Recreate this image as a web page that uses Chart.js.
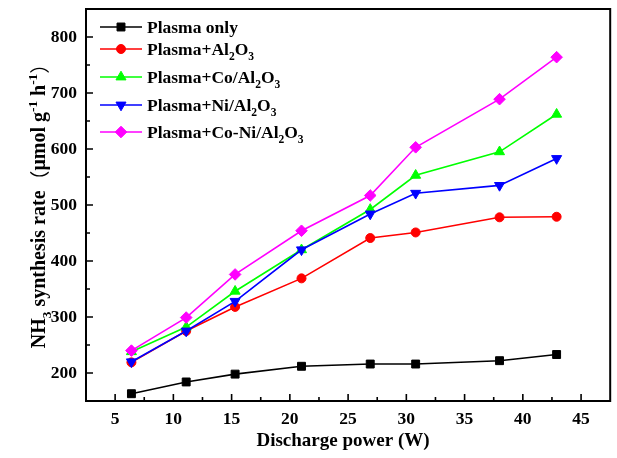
<!DOCTYPE html>
<html><head><meta charset="utf-8">
<script src="https://cdn.jsdelivr.net/npm/chart.js@4.4.1/dist/chart.umd.min.js"></script>
<style>html,body{margin:0;padding:0;background:#fff;}#wrap{width:617px;height:458px;position:relative;}</style>
</head><body><div id="wrap"><canvas id="c" width="617" height="458"></canvas></div>
<script>
// ---- data ----
const powerW = [6.4, 11.1, 15.3, 21.0, 26.9, 30.8, 38.0, 42.9];
const plasmaOnly = [163, 184, 198, 212, 216, 216, 222, 233];
const plasmaAl2O3 = [219, 275, 318, 369, 441, 451, 478, 479];
const plasmaCoAl2O3 = [238, 282, 346, 420, 492, 553, 595, 662];
const plasmaNiAl2O3 = [220, 275, 328, 420, 484, 521, 535, 583];
const plasmaCoNiAl2O3 = [240, 299, 376, 454, 517, 603, 689, 764];
const seriesLabels = ['Plasma only', 'Plasma+Al₂O₃', 'Plasma+Co/Al₂O₃', 'Plasma+Ni/Al₂O₃', 'Plasma+Co-Ni/Al₂O₃'];
const xTicks = [5, 10, 15, 20, 25, 30, 35, 40, 45];
const yTicks = [200, 300, 400, 500, 600, 700, 800];
const xTitle = 'Discharge power (W)';
const yTitle = 'NH₃ synthesis rate（μmol g⁻¹ h⁻¹）';

// ---- styling ----
const FAMILY = "'Liberation Serif', 'Times New Roman', 'Noto Sans CJK SC', serif";
const CJK = "'Noto Sans CJK SC', 'Noto Sans CJK JP', sans-serif";
const colors = ['#000000', '#ff0000', '#00ff00', '#0000ff', '#ff00ff'];
const styles = [
  {pointStyle: 'rect', radius: 5.6, rotation: 0},
  {pointStyle: 'circle', radius: 4.5, rotation: 0},
  {pointStyle: 'triangle', radius: 5.8, rotation: 0},
  {pointStyle: 'triangle', radius: 5.8, rotation: 180},
  {pointStyle: 'rectRot', radius: 5.8, rotation: 0}
];
const seriesValues = [plasmaOnly, plasmaAl2O3, plasmaCoAl2O3, plasmaNiAl2O3, plasmaCoNiAl2O3];

// rich text (sub/superscript) helpers
function parseRich(str) {
  const sub = '₀₁₂₃₄₅₆₇₈₉', sup = '⁰¹²³⁴⁵⁶⁷⁸⁹';
  const out = [];
  for (const ch of str) {
    let kind = 'n', c = ch, i = sub.indexOf(ch);
    if (i >= 0) { kind = 'sub'; c = String(i); }
    else if ((i = sup.indexOf(ch)) >= 0) { kind = 'sup'; c = String(i); }
    else if (ch === '⁻') { kind = 'sup'; c = '-'; }
    else if (ch === '（' || ch === '）') { kind = 'cjk'; }
    if (out.length && out[out.length - 1].kind === kind) out[out.length - 1].t += c;
    else out.push({kind, t: c});
  }
  return out;
}
function segFont(kind, size) {
  if (kind === 'cjk') return 'normal ' + size + 'px ' + CJK;
  const s = kind === 'n' ? size : size * 0.66;
  return 'bold ' + s + 'px ' + FAMILY;
}
function richWidth(ctx, str, size) {
  let w = 0;
  for (const sg of parseRich(str)) { ctx.font = segFont(sg.kind, size); w += ctx.measureText(sg.t).width; }
  return w;
}
function drawRich(ctx, str, x, y, size) {
  ctx.textBaseline = 'alphabetic'; ctx.textAlign = 'left';
  for (const sg of parseRich(str)) {
    ctx.font = segFont(sg.kind, size);
    const dy = sg.kind === 'sub' ? size * 0.3 : sg.kind === 'sup' ? -size * 0.42 : sg.kind === 'cjk' ? size * 0.08 : 0;
    ctx.fillText(sg.t, x, y + dy);
    x += ctx.measureText(sg.t).width;
  }
}

const decor = {
  id: 'decor',
  afterDraw(chart) {
    const ctx = chart.ctx, a = chart.chartArea, xs = chart.scales.x, ys = chart.scales.y;
    ctx.save();
    ctx.strokeStyle = '#000'; ctx.fillStyle = '#000';
    // inward ticks
    ctx.lineWidth = 1.6;
    ctx.beginPath();
    const xStep = xTicks[1] - xTicks[0], yStep = yTicks[1] - yTicks[0];
    xTicks.forEach((v, i) => {
      const px = xs.getPixelForValue(v);
      ctx.moveTo(px, a.bottom); ctx.lineTo(px, a.bottom - 7);
      const mv = v + xStep / 2;
      if (mv < xs.max) { const pm = xs.getPixelForValue(mv); ctx.moveTo(pm, a.bottom); ctx.lineTo(pm, a.bottom - 4); }
    });
    yTicks.forEach((v, i) => {
      const py = ys.getPixelForValue(v);
      ctx.moveTo(a.left, py); ctx.lineTo(a.left + 7, py);
      const mv = v + yStep / 2;
      if (mv < ys.max) { const pm = ys.getPixelForValue(mv); ctx.moveTo(a.left, pm); ctx.lineTo(a.left + 4, pm); }
    });
    ctx.stroke();
    // frame
    ctx.lineWidth = 2;
    ctx.strokeRect(a.left, a.top, a.right - a.left, a.bottom - a.top);
    // legend
    const rowGap = [22, 28, 28, 27];
    let ly = a.top + 18;
    chart.data.datasets.forEach((ds, i) => {
      ctx.strokeStyle = ds.borderColor; ctx.lineWidth = 1.6;
      ctx.beginPath(); ctx.moveTo(a.left + 14, ly); ctx.lineTo(a.left + 56, ly); ctx.stroke();
      ctx.fillStyle = ds.backgroundColor; ctx.strokeStyle = ds.borderColor; ctx.lineWidth = 1;
      Chart.helpers.drawPoint(ctx, {pointStyle: styles[i].pointStyle, radius: styles[i].radius, rotation: styles[i].rotation, borderWidth: 1}, a.left + 35, ly);
      ctx.fillStyle = '#000';
      drawRich(ctx, ds.label, a.left + 61, ly + 6, 17.5);
      ly += rowGap[i] || 27;
    });
    // x title
    ctx.fillStyle = '#000';
    const xw = richWidth(ctx, xTitle, 19);
    drawRich(ctx, xTitle, 343 - xw / 2, 446, 19);
    // y title
    ctx.save();
    ctx.translate(45, 201);
    ctx.rotate(-Math.PI / 2);
    const yw = richWidth(ctx, yTitle, 20);
    drawRich(ctx, yTitle, -yw / 2, 0, 20);
    ctx.restore();
    ctx.restore();
  }
};

const datasets = seriesLabels.map((lab, i) => ({
  label: lab,
  data: powerW.map((x, j) => ({x: x, y: seriesValues[i][j]})),
  borderColor: colors[i],
  backgroundColor: colors[i],
  borderWidth: 1.6,
  pointStyle: styles[i].pointStyle,
  pointRadius: styles[i].radius,
  pointHoverRadius: styles[i].radius,
  pointRotation: styles[i].rotation,
  pointBorderWidth: 1,
  tension: 0,
  fill: false,
  order: seriesLabels.length - i
}));

new Chart(document.getElementById('c'), {
  type: 'line',
  data: {datasets},
  plugins: [decor],
  options: {
    responsive: false,
    animation: false,
    devicePixelRatio: 1,
    layout: {padding: {top: 9, right: 5, left: 0, bottom: 0}},
    plugins: {legend: {display: false}, tooltip: {enabled: false}},
    scales: {
      x: {
        type: 'linear', min: 2.5, max: 47.5,
        afterBuildTicks: s => { s.ticks = xTicks.map(v => ({value: v})); },
        afterFit: s => { s.height = 57; s.paddingLeft = 0; s.paddingRight = 0; },
        grid: {display: false, drawTicks: false},
        border: {display: false},
        ticks: {color: '#000', padding: 8, maxRotation: 0, font: {family: FAMILY, size: 17.5, weight: 'bold'}}
      },
      y: {
        type: 'linear', min: 150, max: 850,
        afterBuildTicks: s => { s.ticks = yTicks.map(v => ({value: v})); },
        afterFit: s => { s.width = 86; s.paddingTop = 0; s.paddingBottom = 0; },
        grid: {display: false, drawTicks: false},
        border: {display: false},
        ticks: {color: '#000', padding: 9, font: {family: FAMILY, size: 17.5, weight: 'bold'}}
      }
    }
  }
});
</script></body></html>
